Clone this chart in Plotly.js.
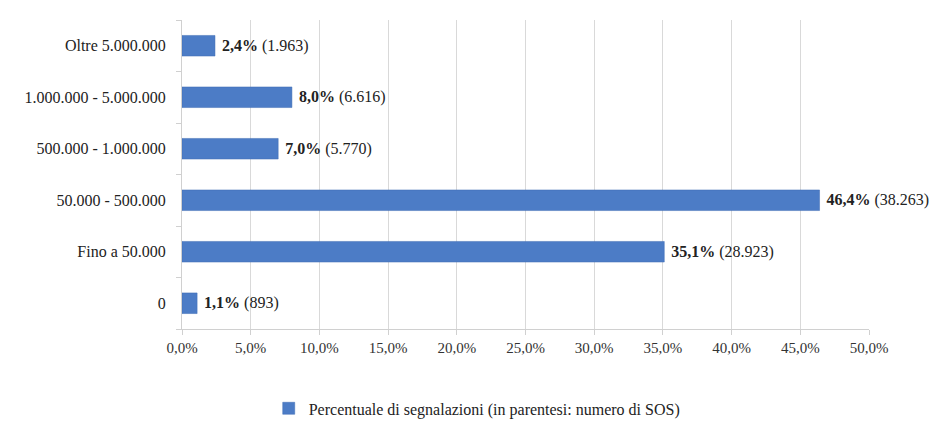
<!DOCTYPE html>
<html>
<head>
<meta charset="utf-8">
<script src="https://cdn.plot.ly/plotly-3.0.1.min.js"></script>
<style>html,body{margin:0;padding:0;background:#fff;}#chart{width:945px;height:421px;}</style>
</head>
<body>
<div id="chart"></div>
<script>
var categories = ["0", "Fino a 50.000", "50.000 - 500.000", "500.000 - 1.000.000", "1.000.000 - 5.000.000", "Oltre 5.000.000"];
var percentages = [1.1, 35.1, 46.4, 7.0, 8.0, 2.4];
var counts = [893, 28923, 38263, 5770, 6616, 1963];
var tickValues = [0, 5, 10, 15, 20, 25, 30, 35, 40, 45, 50];
var seriesName = "Percentuale di segnalazioni (in parentesi: numero di SOS)";

function itNum(n) { return String(n).replace(/\B(?=(\d{3})+(?!\d))/g, "."); }
var labels = percentages.map(function (p, i) {
  return "\u00a0<b>" + p.toFixed(1).replace(".", ",") + "%</b> (" + itNum(counts[i]) + ")";
});
var tickText = tickValues.map(function (v) { return v.toFixed(1).replace(".", ",") + "%"; });

var font = "Liberation Serif, Times New Roman, serif";

var trace = {
  type: "bar",
  orientation: "h",
  y: categories,
  x: percentages,
  name: seriesName,
  width: 0.4,
  marker: { color: "#4c7cc6", line: { color: "#3e6db5", width: 0.5 } },
  text: labels,
  textposition: "outside",
  cliponaxis: false,
  textfont: { family: font, size: 16, color: "#222" },
  hoverinfo: "skip"
};

var layout = {
  width: 945, height: 421,
  margin: { l: 182, r: 76, t: 20, b: 92 },
  paper_bgcolor: "#fff", plot_bgcolor: "#fff",
  font: { family: font, size: 16, color: "#222" },
  showlegend: true,
  legend: {
    orientation: "h", xref: "container", yref: "container",
    x: 0.505, xanchor: "center", y: 0.03, yanchor: "middle",
    font: { family: font, size: 16, color: "#222" },
    itemwidth: 30
  },
  xaxis: {
    range: [0, 50],
    tickvals: tickValues,
    ticktext: tickText,
    showgrid: true, gridcolor: "#d9d9d9", gridwidth: 1,
    zeroline: false,
    showline: true, linecolor: "#d0d0d0",
    ticks: "outside", ticklen: 5, tickcolor: "#d0d0d0",
    tickfont: { family: font, size: 15, color: "#333" }
  },
  yaxis: {
    type: "category",
    categoryorder: "array", categoryarray: categories,
    range: [-0.5, 5.5],
    showline: true, linecolor: "#d0d0d0",
    ticks: "outside", ticklen: 5, tickcolor: "#d0d0d0",
    tickson: "boundaries",
    showgrid: false,
    ticklabelstandoff: 12,
    tickfont: { family: font, size: 16, color: "#222" }
  }
};

Plotly.newPlot("chart", [trace], layout, { staticPlot: true, displayModeBar: false });
</script>
</body>
</html>
